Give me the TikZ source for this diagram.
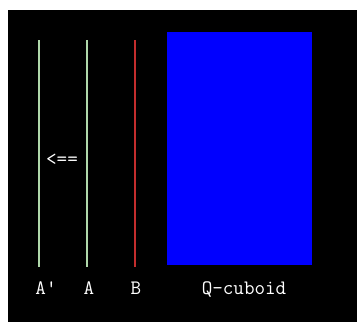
\documentclass[tikz,border=0pt]{standalone}
\usepackage{fontspec}
\definecolor{planegreen}{RGB}{175,215,170}
\definecolor{planered}{RGB}{195,45,45}
\definecolor{cuboidblue}{RGB}{0,0,255}
\tikzset{
  plane/.style={line width=2pt},
  lbl/.style={text=white, font=\ttfamily\fontsize{20.5}{20.5}\selectfont, inner sep=0pt, anchor=base},
}
\begin{document}
\begin{tikzpicture}[x=1pt,y=-1pt]
  % page and dark panel
  \useasboundingbox (0,0) rectangle (357,322);
  \fill[white] (0,0) rectangle (357,322);
  \fill[black] (8,10) rectangle (357,322);
  % planes A', A, B
  \coordinate (apt) at (39,40);  \coordinate (apb) at (39,267);
  \coordinate (at)  at (87,40);  \coordinate (ab)  at (87,267);
  \coordinate (bt)  at (135,40); \coordinate (bb)  at (135,267);
  \draw[plane, planegreen] (apt) -- (apb);
  \draw[plane, planegreen] (at) -- (ab);
  \draw[plane, planered] (bt) -- (bb);
  % the cuboid
  \fill[cuboidblue] (167,32) rectangle (312,265);
  % labels
  \node[lbl] (lap) at (46,294) {A'};
  \node[lbl] (la)  at (89,294) {A};
  \node[lbl] (lb)  at (136,294) {B};
  \node[lbl] (lq)  at (244,294) {Q-cuboid};
  \node[lbl, anchor=center] (arr) at (62,160) {<==};
\end{tikzpicture}
\end{document}
